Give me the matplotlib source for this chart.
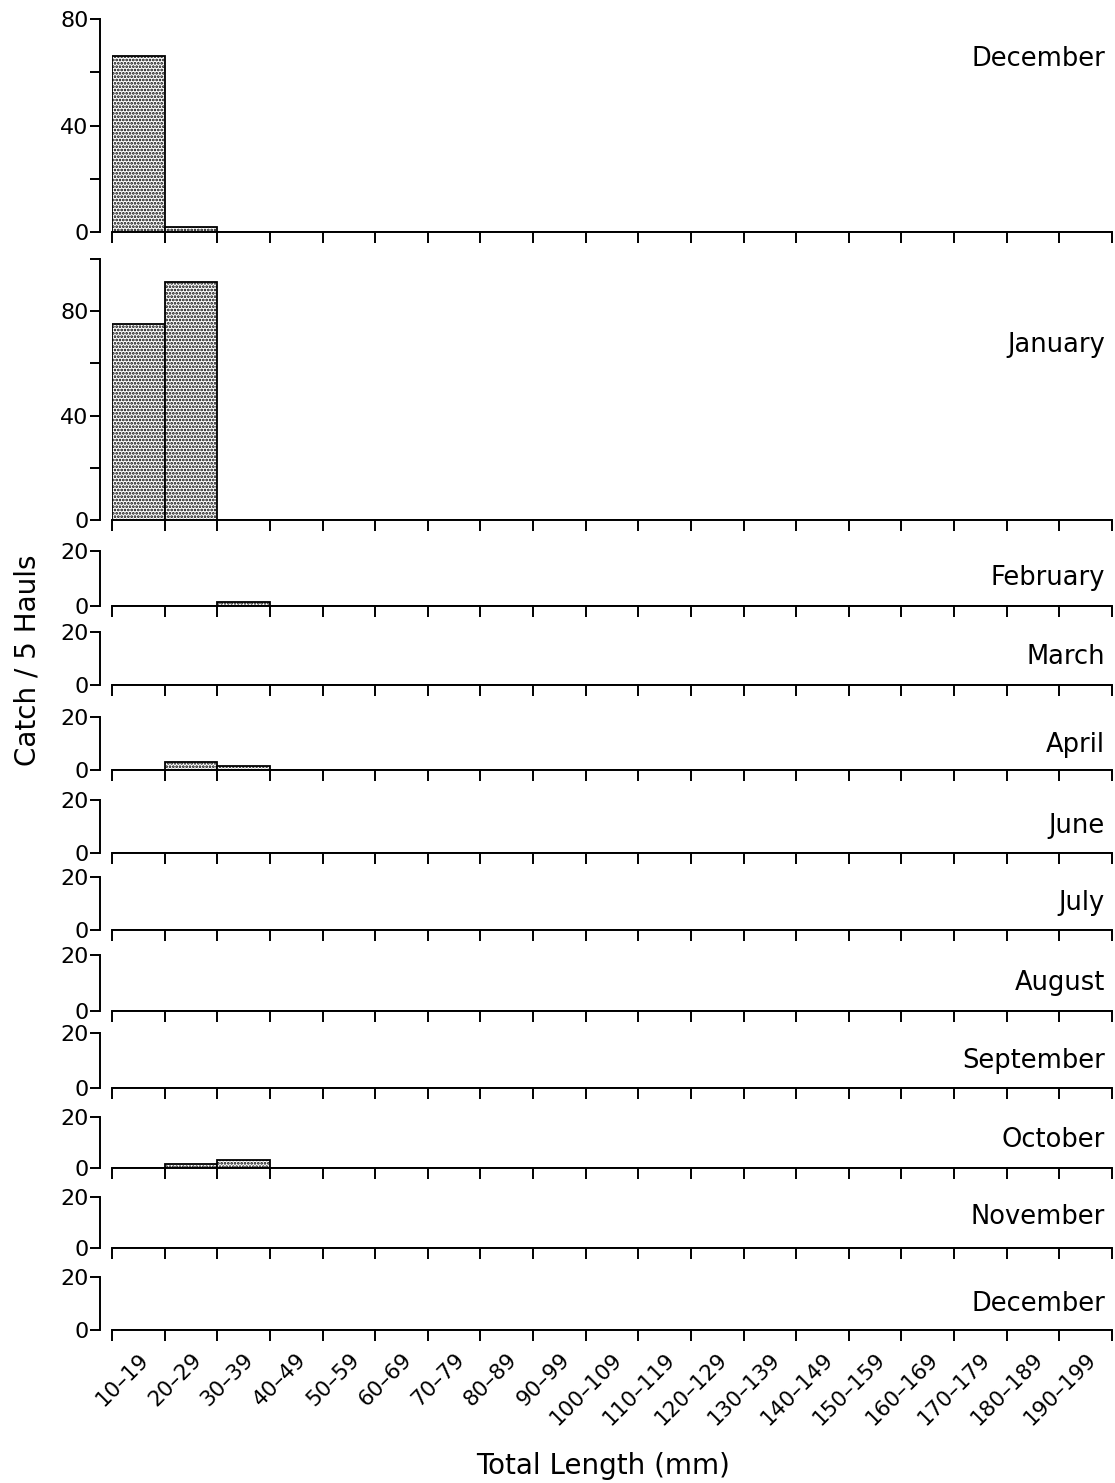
import numpy as np
import matplotlib
matplotlib.use("Agg")
import matplotlib.pyplot as plt

plt.rcParams['font.family'] = ['DejaVu Sans']
plt.rcParams['hatch.linewidth'] = 1.3

# length classes (mm)
bin_edges = list(range(10, 201, 10))
bin_labels = ["%d\u2013%d" % (a, a + 9) for a in range(10, 200, 10)]

months = ["December", "January", "February", "March", "April", "June",
          "July", "August", "September", "October", "November", "December"]

# catch per 5 hauls in each length class (only the first few classes are non-zero)
dec1 = [66, 2]
jan = [75, 91]
feb = [0, 0, 1.5]
mar = []
apr = [0, 3, 1.5]
jun = []
jul = []
aug = []
sep = []
octo = [0, 1.5, 3]
nov = []
dec2 = []
catches = [dec1, jan, feb, mar, apr, jun, jul, aug, sep, octo, nov, dec2]

y_max = [80, 100, 20, 20, 20, 20, 20, 20, 20, 20, 20, 20]
y_ticks = [[0, 20, 40, 60, 80], [0, 20, 40, 60, 80, 100]] + [[0, 20]] * 10
y_ticklabels = [["0", "", "40", "", "80"], ["0", "", "40", "", "80", ""]] + [["0", "20"]] * 10

# panel placement in pixels (top, bottom of y axis) and month label height
W, H = 1115, 1483
panels = [(19, 232), (259, 520), (551, 606), (632, 685), (717, 770),
          (800, 853), (877, 930), (955, 1011), (1033, 1088), (1117, 1168),
          (1197, 1248), (1277, 1330)]
label_frac = [0.81, 0.67, 0.51, 0.53, 0.47, 0.51, 0.51, 0.5, 0.49, 0.55, 0.61, 0.49]

fig = plt.figure(figsize=(W / 100, H / 100), dpi=100)
x0, x1 = 112, 1112

for i, (top, bot) in enumerate(panels):
    ax = fig.add_axes([x0 / W, 1 - bot / H, (x1 - x0) / W, (bot - top) / H])
    vals = np.zeros(len(bin_labels))
    vals[:len(catches[i])] = catches[i]
    ax.bar(np.array(bin_edges[:-1]), vals, width=10, align='edge',
           color='white', edgecolor='black', hatch='.....', linewidth=1.3)
    ax.set_xlim(10, 200)
    ax.set_ylim(0, y_max[i])

    for s in ['top', 'right']:
        ax.spines[s].set_visible(False)
    ax.spines['left'].set_position(('outward', 9))
    ax.spines['left'].set_bounds(0, y_max[i])
    ax.spines['left'].set_linewidth(1.4)
    ax.spines['bottom'].set_linewidth(1.4)

    ax.set_yticks(y_ticks[i])
    ax.set_yticklabels(y_ticklabels[i])
    ax.tick_params(axis='y', direction='out', length=7, width=1.4,
                   labelsize=16, pad=1)

    ax.set_xticks(bin_edges)
    ax.set_xticklabels([])
    ax.tick_params(axis='x', which='major', direction='out', length=8, width=1.4)
    if i == len(panels) - 1:
        ax.set_xticks([e + 5 for e in bin_edges[:-1]], minor=True)
        ax.set_xticklabels(bin_labels, minor=True, rotation=45, ha='right',
                           va='top', rotation_mode='anchor', fontsize=15.5)
        ax.tick_params(axis='x', which='minor', length=0, pad=14)

    ax.text(0.993, label_frac[i], months[i], transform=ax.transAxes,
            ha='right', va='center', fontsize=18.5)
    ax.patch.set_alpha(0)

fig.text(28 / W, 1 - 660 / H, "Catch / 5 Hauls", rotation=90,
         ha='center', va='center', fontsize=20)
fig.text(603 / W, 1 - 1466 / H, "Total Length (mm)",
         ha='center', va='center', fontsize=20)

fig.savefig("out.png", dpi=100)
